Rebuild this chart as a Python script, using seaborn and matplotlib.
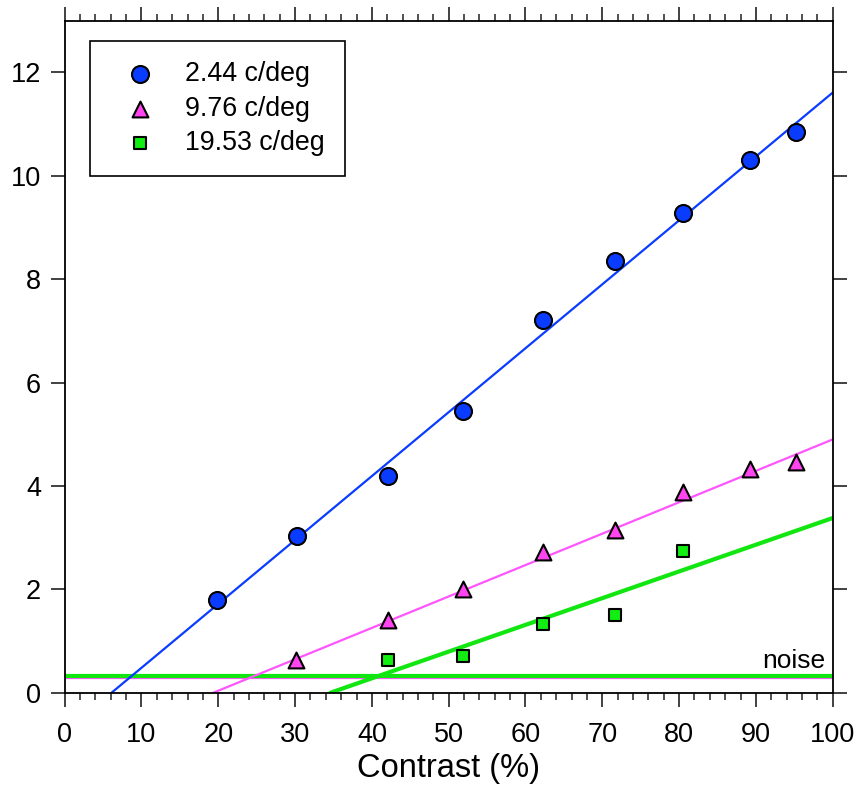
import numpy as np
import pandas as pd
import matplotlib
matplotlib.use("Agg")
import matplotlib.pyplot as plt
import seaborn as sns
from matplotlib.ticker import MultipleLocator

# ---- data ----
labels = ["2.44 c/deg", "9.76 c/deg", "19.53 c/deg"]

x_244 = [19.8, 30.3, 42.1, 51.9, 62.3, 71.7, 80.5, 89.2, 95.2]
y_244 = [1.79, 3.03, 4.19, 5.45, 7.21, 8.35, 9.28, 10.30, 10.84]

x_976 = [30.1, 42.1, 51.9, 62.3, 71.7, 80.5, 89.2, 95.2]
y_976 = [0.63, 1.41, 2.00, 2.73, 3.15, 3.88, 4.33, 4.46]

x_1953 = [42.1, 51.9, 62.3, 71.7, 80.5]
y_1953 = [0.63, 0.72, 1.32, 1.51, 2.75]

# linear fits: (x-intercept, value at x=100)
fit_x0 = [6.1, 19.35, 34.6]
fit_y100 = [11.61, 4.90, 3.38]

noise_levels = [0.32, 0.29]  # green, magenta

x_ticks = list(range(0, 101, 10))
y_ticks = list(range(0, 13, 2))

# ---- style ----
sns.set_theme(style="white")
plt.rcParams['font.family'] = ['Liberation Sans', 'DejaVu Sans']
plt.rcParams['text.color'] = 'black'
plt.rcParams['axes.labelcolor'] = 'black'
plt.rcParams['xtick.labelcolor'] = 'black'
plt.rcParams['ytick.labelcolor'] = 'black'

blue = "#0a3cff"
magenta = "#ff44f0"
green = "#11ee11"
line_mag = "#ff55ff"
line_green = "#11e611"

fig = plt.figure(figsize=(8.58, 8.07), dpi=100)
ax = fig.add_axes([0.0754, 0.1416, 0.8951, 0.8327])

# noise lines
ax.axhline(noise_levels[1], color=line_mag, lw=1.6, zorder=1)
ax.axhline(noise_levels[0], color=line_green, lw=3.0, zorder=1)

# fit lines
line_cols = [blue, line_mag, line_green]
line_w = [1.6, 1.6, 3.0]
for x0, y100, c, w in zip(fit_x0, fit_y100, line_cols, line_w):
    fx = np.array([x0, 100.0])
    fy = np.array([0.0, y100])
    sns.lineplot(x=fx, y=fy, ax=ax, color=c, lw=w, zorder=2, legend=False)

series = [
    (x_244, y_244, "o", blue, 150),
    (x_976, y_976, "^", magenta, 130),
    (x_1953, y_1953, "s", green, 85),
]
for (xs, ys, m, c, s), lab in zip(series, labels):
    sns.scatterplot(x=xs, y=ys, ax=ax, marker=m, color=c, s=s,
                    edgecolor="black", linewidth=1.5, zorder=3, label=lab)

ax.text(99.0, 0.47, "noise", ha="right", va="baseline", fontsize=19)

ax.set_xlim(0, 100)
ax.set_ylim(0, 13)
ax.set_xticks(x_ticks)
ax.set_yticks(y_ticks)
ax.xaxis.set_minor_locator(MultipleLocator(2))
ax.tick_params(axis="both", which="major", direction="out", length=10, width=1.3,
               color="#333333", labelsize=19.5)
ax.tick_params(axis="x", which="major", pad=11, top=True, bottom=True)
ax.tick_params(axis="y", which="major", pad=7, left=True, right=True)
ax.tick_params(axis="x", which="minor", direction="out", length=5, width=1.2,
               color="#333333", top=True, bottom=True)
ax.set_xlabel("Contrast (%)", fontsize=23.5, labelpad=4)
ax.set_ylabel("")
for sp in ax.spines.values():
    sp.set_color("black")
    sp.set_linewidth(1.3)

leg = ax.legend(loc="upper left", bbox_to_anchor=(0.033, 0.970), fontsize=19.3,
                frameon=True, fancybox=False, edgecolor="black", framealpha=1,
                borderpad=0.75, handletextpad=0.6, labelspacing=0.32,
                borderaxespad=0, handlelength=2.2)
leg.get_frame().set_linewidth(1.2)

fig.savefig("out.png", dpi=100)
